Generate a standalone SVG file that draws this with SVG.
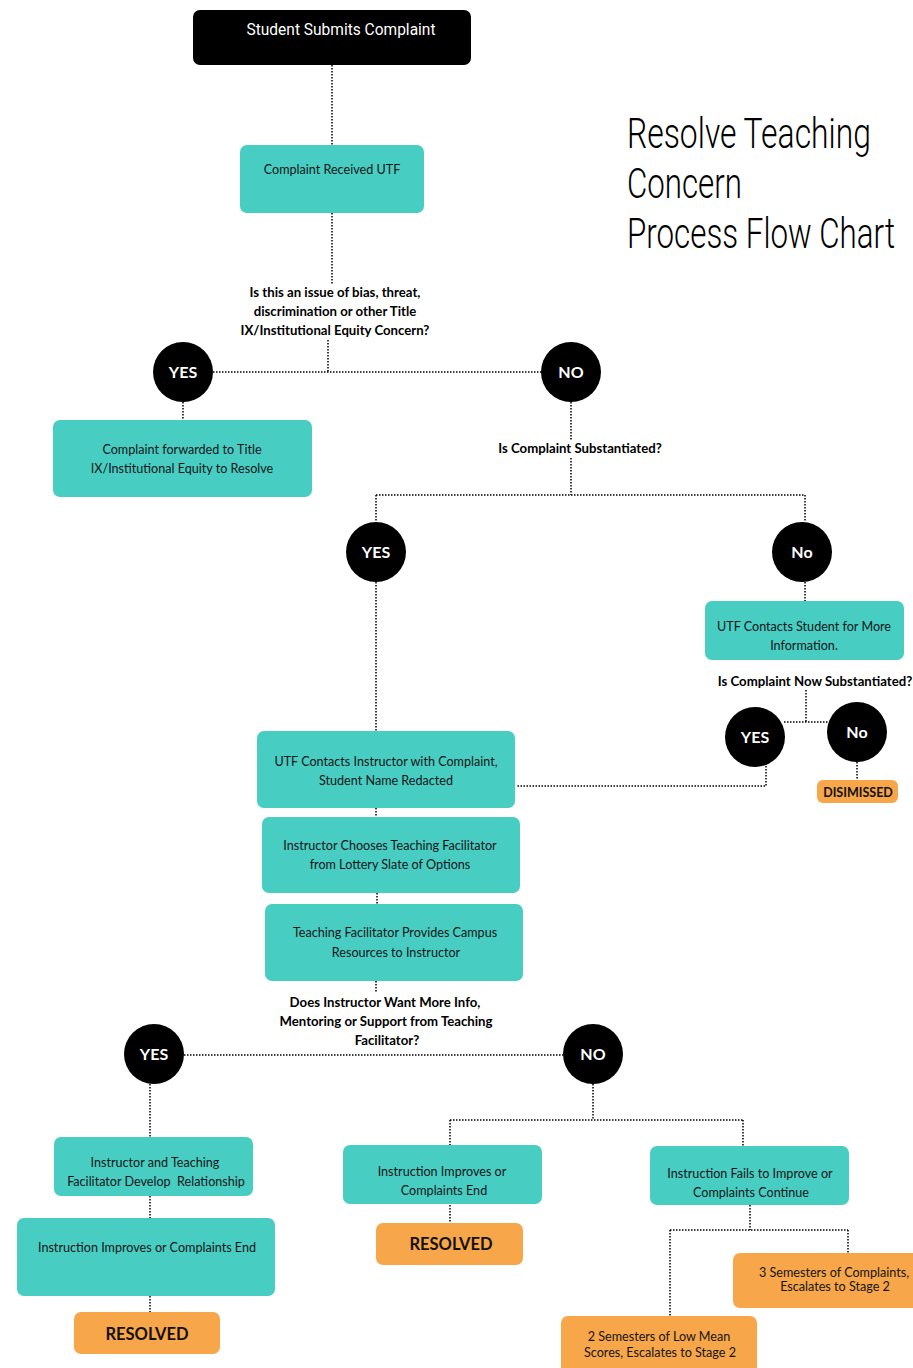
<svg xmlns="http://www.w3.org/2000/svg" width="913" height="1368" viewBox="0 0 913 1368">
<style>
.teal{fill:#48CDC3}
.orange{fill:#F7A64A}
.body{font-family:Lato,"Noto Sans",sans-serif;font-size:12.6px;fill:#151515;text-anchor:middle}
.q{font-family:Lato,"Noto Sans",sans-serif;font-size:13.2px;font-weight:bold;fill:#000;text-anchor:middle}
.ct{font-family:Lato,"Noto Sans",sans-serif;font-size:16px;font-weight:bold;fill:#fff;text-anchor:middle}
.ot{font-family:Lato,"Noto Sans",sans-serif;font-weight:bold;fill:#111;text-anchor:middle}
.title{font-family:Roboto,"Liberation Sans",sans-serif;font-weight:300;font-size:42px;fill:#000}
.conn path{fill:none;stroke:#000;stroke-width:1.5;stroke-dasharray:1.5 1.5}
</style>
<rect width="913" height="1368" fill="#fff"/>
<g class="conn">
<path d="M332 65V145"/>
<path d="M332 213V285"/>
<path d="M328 340V372M213 372H541"/>
<path d="M183 402V420"/>
<path d="M571 402V440M571 458V495"/>
<path d="M376 495H805M376 495V522M805 495V522"/>
<path d="M376 582V731"/>
<path d="M805 582V601"/>
<path d="M806 690V722M784 722H828"/>
<path d="M857 762V780"/>
<path d="M766 760V786H516"/>
<path d="M376 808V817"/>
<path d="M377 893V904"/>
<path d="M376 981V993"/>
<path d="M184 1055H563"/>
<path d="M150 1084V1137"/>
<path d="M150 1196V1218"/>
<path d="M150 1296V1312"/>
<path d="M593 1084V1120M450 1120H743M450 1120V1145M743 1120V1146"/>
<path d="M450 1205V1223"/>
<path d="M750 1205V1230M670 1230H848M848 1230V1253M670 1230V1316"/>
</g>
<g id="title" transform="scale(0.75 1)">
<text class="title" x="836" y="148" textLength="325.3" lengthAdjust="spacingAndGlyphs">Resolve Teaching</text>
<text class="title" x="836" y="198" textLength="153.3" lengthAdjust="spacingAndGlyphs">Concern</text>
<text class="title" x="836" y="248" textLength="357.3" lengthAdjust="spacingAndGlyphs">Process Flow Chart</text>
</g>
<g id="start">
<rect x="193" y="10" width="278" height="55" rx="7" fill="#000"/>
<text x="341" y="35" font-family="Roboto,'Liberation Sans',sans-serif" font-size="17" fill="#fff" text-anchor="middle" textLength="189" lengthAdjust="spacingAndGlyphs">Student Submits Complaint</text>
</g>
<g id="received">
<rect class="teal" x="240" y="145" width="184" height="68" rx="7"/>
<text class="body" x="332" y="174">Complaint Received UTF</text>
</g>
<g id="q1">
<text class="q" x="335" y="297">Is this an issue of bias, threat,</text>
<text class="q" x="335" y="316">discrimination or other Title</text>
<text class="q" x="335" y="335">IX/Institutional Equity Concern?</text>
</g>
<g id="yes1"><circle cx="183" cy="372" r="30" fill="#000"/><text class="ct" x="183" y="378">YES</text></g>
<g id="no1"><circle cx="571" cy="372" r="30" fill="#000"/><text class="ct" x="571" y="378">NO</text></g>
<g id="forwarded">
<rect class="teal" x="53" y="420" width="259" height="77" rx="7"/>
<text class="body" x="182" y="454">Complaint forwarded to Title</text>
<text class="body" x="182" y="473">IX/Institutional Equity to Resolve</text>
</g>
<g id="q2"><text class="q" x="580" y="453">Is Complaint Substantiated?</text></g>
<g id="yes2"><circle cx="376" cy="552" r="30" fill="#000"/><text class="ct" x="376" y="558">YES</text></g>
<g id="no2"><circle cx="802" cy="552" r="30" fill="#000"/><text class="ct" x="802" y="558">No</text></g>
<g id="contactStudent">
<rect class="teal" x="705" y="601" width="199" height="59" rx="7"/>
<text class="body" x="804" y="631">UTF Contacts Student for More</text>
<text class="body" x="804" y="650">Information.</text>
</g>
<g id="q3"><text class="q" x="815" y="686">Is Complaint Now Substantiated?</text></g>
<g id="yes3"><circle cx="755" cy="737" r="30" fill="#000"/><text class="ct" x="755" y="743">YES</text></g>
<g id="no3"><circle cx="857" cy="732" r="30" fill="#000"/><text class="ct" x="857" y="738">No</text></g>
<g id="dismissed">
<rect class="orange" x="817" y="780" width="81" height="23" rx="6"/>
<text class="ot" x="858" y="797" font-size="12.5">DISIMISSED</text>
</g>
<g id="contactInstructor">
<rect class="teal" x="257" y="731" width="258" height="77" rx="7"/>
<text class="body" x="386" y="766">UTF Contacts Instructor with Complaint,</text>
<text class="body" x="386" y="785">Student Name Redacted</text>
</g>
<g id="chooses">
<rect class="teal" x="262" y="817" width="258" height="76" rx="7"/>
<text class="body" x="390" y="850">Instructor Chooses Teaching Facilitator</text>
<text class="body" x="390" y="869">from Lottery Slate of Options</text>
</g>
<g id="provides">
<rect class="teal" x="265" y="904" width="258" height="77" rx="7"/>
<text class="body" x="395" y="937">Teaching Facilitator Provides Campus</text>
<text class="body" x="396" y="957">Resources to Instructor</text>
</g>
<g id="q4">
<text class="q" x="385" y="1007">Does Instructor Want More Info,</text>
<text class="q" x="386" y="1026">Mentoring or Support from Teaching</text>
<text class="q" x="387" y="1045">Facilitator?</text>
</g>
<g id="yes4"><circle cx="154" cy="1054" r="30" fill="#000"/><text class="ct" x="154" y="1060">YES</text></g>
<g id="no4"><circle cx="593" cy="1054" r="30" fill="#000"/><text class="ct" x="593" y="1060">NO</text></g>
<g id="relationship">
<rect class="teal" x="54" y="1137" width="199" height="59" rx="7"/>
<text class="body" x="155" y="1167">Instructor and Teaching</text>
<text class="body" x="156" y="1186" xml:space="preserve">Facilitator Develop  Relationship</text>
</g>
<g id="improves1">
<rect class="teal" x="17" y="1218" width="258" height="78" rx="7"/>
<text class="body" x="147" y="1252">Instruction Improves or Complaints End</text>
</g>
<g id="resolved1">
<rect class="orange" x="74" y="1312" width="146" height="42" rx="7"/>
<text class="ot" x="147" y="1340" font-size="16.5">RESOLVED</text>
</g>
<g id="improves2">
<rect class="teal" x="343" y="1145" width="199" height="59" rx="7"/>
<text class="body" x="442" y="1176">Instruction Improves or</text>
<text class="body" x="444" y="1195">Complaints End</text>
</g>
<g id="resolved2">
<rect class="orange" x="376" y="1223" width="147" height="42" rx="7"/>
<text class="ot" x="451" y="1250" font-size="16.5">RESOLVED</text>
</g>
<g id="fails">
<rect class="teal" x="650" y="1146" width="199" height="59" rx="7"/>
<text class="body" x="750" y="1178">Instruction Fails to Improve or</text>
<text class="body" x="751" y="1197">Complaints Continue</text>
</g>
<g id="three">
<rect class="orange" x="733" y="1253" width="190" height="55" rx="7"/>
<text class="body" x="834" y="1277" font-size="11.5">3 Semesters of Complaints,</text>
<text class="body" x="835" y="1291" font-size="11.5">Escalates to Stage 2</text>
</g>
<g id="two">
<rect class="orange" x="561" y="1316" width="196" height="62" rx="7"/>
<text class="body" x="659" y="1341" font-size="11.5">2 Semesters of Low Mean</text>
<text class="body" x="660" y="1357" font-size="11.5">Scores, Escalates to Stage 2</text>
</g>
</svg>
